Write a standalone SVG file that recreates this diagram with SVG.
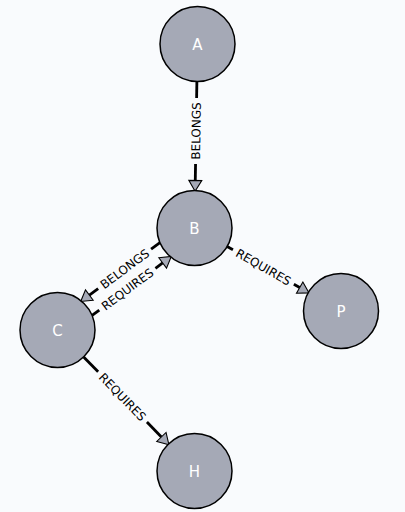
<svg xmlns="http://www.w3.org/2000/svg" width="405" height="512" viewBox="0 0 405 512">
<style>
.node circle{fill:#a5a9b6;stroke:#000;stroke-width:1.5}
.node text{fill:#fff;font-family:"DejaVu Sans",sans-serif;font-size:15px;text-anchor:middle}
.edge line{stroke:#000;stroke-width:2.8}
.edge text{fill:#000;font-family:"DejaVu Sans",sans-serif;font-size:12px;text-anchor:middle}
</style>
<defs>
<marker id="arrow" markerUnits="userSpaceOnUse" markerWidth="14" markerHeight="16" viewBox="-1 -7 13 14" refX="0" refY="0" orient="auto" overflow="visible">
<path d="M0,-6 L10,0 L0,6 Z" fill="#a5a9b6" stroke="#000" stroke-width="1"/>
</marker>
</defs>
<rect width="405" height="512" fill="#f9fbfd"/>
<g id="edges">
<g id="edge-A-B" class="edge">
<line x1="196.89" y1="81.5" x2="196.61" y2="98"/>
<line x1="195.55" y1="164" x2="195.27" y2="180.5" marker-end="url(#arrow)"/>
<text transform="translate(196.08,131) rotate(-89.07)" y="4.3">BELONGS</text>
</g>
<g id="edge-B-P" class="edge">
<line x1="227.13" y1="246.49" x2="232.95" y2="249.79"/>
<line x1="293.85" y1="284.29" x2="299.67" y2="287.59" marker-end="url(#arrow)"/>
<text transform="translate(263.4,267.04) rotate(29.54)" y="4.3">REQUIRES</text>
</g>
<g id="edge-C-H" class="edge">
<line x1="83.63" y1="356.9" x2="98.13" y2="371.82"/>
<line x1="146.91" y1="422.02" x2="161.4" y2="436.94" marker-end="url(#arrow)"/>
<text transform="translate(122.52,396.92) rotate(45.83)" y="4.3">REQUIRES</text>
</g>
<g id="edge-B-C" class="edge">
<line x1="159.93" y1="242.52" x2="151.11" y2="249.09"/>
<line x1="98.17" y1="288.51" x2="89.35" y2="295.07" marker-end="url(#arrow)"/>
<text transform="translate(124.64,268.8) rotate(-36.67)" y="4.3">BELONGS</text>
</g>
<g id="edge-C-B" class="edge">
<line x1="92.08" y1="315.48" x2="99.3" y2="310.11"/>
<line x1="155.44" y1="268.31" x2="162.66" y2="262.93" marker-end="url(#arrow)"/>
<text transform="translate(127.37,289.21) rotate(-36.67)" y="4.3">REQUIRES</text>
</g>
</g>
<g id="node-A" class="node"><circle cx="197.5" cy="44" r="37.5"/><text x="197.5" y="49.5">A</text></g>
<g id="node-B" class="node"><circle cx="194.5" cy="228" r="37.5"/><text x="194.5" y="233.5">B</text></g>
<g id="node-C" class="node"><circle cx="57.5" cy="330" r="37.5"/><text x="57.5" y="335.5">C</text></g>
<g id="node-P" class="node"><circle cx="341" cy="311" r="37.5"/><text x="341" y="316.5">P</text></g>
<g id="node-H" class="node"><circle cx="194.5" cy="471" r="37.5"/><text x="194.5" y="476.5">H</text></g>
</svg>
